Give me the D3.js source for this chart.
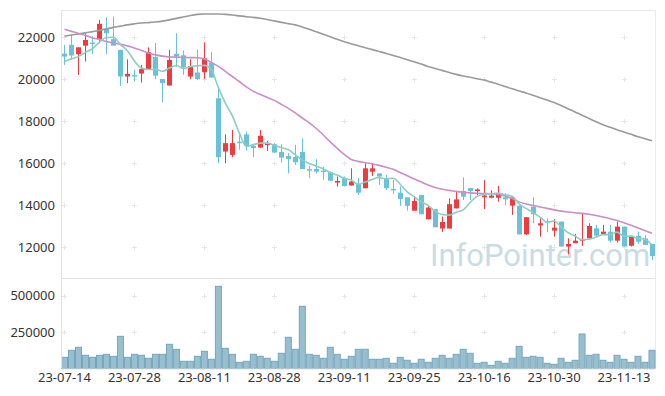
<!DOCTYPE html>
<html>
<head>
<meta charset="utf-8">
<script src="https://cdnjs.cloudflare.com/ajax/libs/d3/7.8.5/d3.min.js"></script>
<style>
  html, body { margin: 0; padding: 0; background: #fff; }
  #chart svg { display: block; }
  .axis text { font-family: "Noto Sans", sans-serif; font-size: 13px; fill: #333; }
  .axis path, .axis line { stroke: #e3e3e3; }
</style>
</head>
<body>
<div id="chart"></div>
<script>
const dates = [
  "23-07-14","23-07-17","23-07-18","23-07-19","23-07-20","23-07-21","23-07-24","23-07-25","23-07-26","23-07-27",
  "23-07-28","23-07-31","23-08-01","23-08-02","23-08-03","23-08-04","23-08-07","23-08-08","23-08-09","23-08-10",
  "23-08-11","23-08-14","23-08-16","23-08-17","23-08-18","23-08-21","23-08-22","23-08-23","23-08-24","23-08-25",
  "23-08-28","23-08-29","23-08-30","23-08-31","23-09-01","23-09-04","23-09-05","23-09-06","23-09-07","23-09-08",
  "23-09-11","23-09-12","23-09-13","23-09-14","23-09-15","23-09-18","23-09-19","23-09-20","23-09-21","23-09-22",
  "23-09-25","23-09-26","23-09-27","23-10-04","23-10-05","23-10-06","23-10-10","23-10-11","23-10-12","23-10-13",
  "23-10-16","23-10-17","23-10-18","23-10-19","23-10-20","23-10-23","23-10-24","23-10-25","23-10-26","23-10-27",
  "23-10-30","23-10-31","23-11-01","23-11-02","23-11-03","23-11-06","23-11-07","23-11-08","23-11-09","23-11-10",
  "23-11-13","23-11-14","23-11-15","23-11-16","23-11-17"
];
const openPrices = [
  21220,21640,21190,21600,21750,21910,22400,21910,21400,20130,
  20200,20270,20480,21060,20010,19700,21210,21140,20130,20320,
  20330,20790,19090,16550,16390,17020,17370,16820,16740,16870,
  16900,16530,16340,16290,16530,15710,15720,15640,15550,15070,
  15290,14930,15010,14800,15590,15510,15280,14770,14590,14370,
  13730,14480,13320,13800,12880,12880,13840,14670,14810,14690,
  14370,14350,14350,14370,13970,13970,12600,13920,13030,13220,
  12780,13210,12020,12180,12300,12410,12890,12620,12730,12300,
  12970,12060,12530,12410,12140
];
const highPrices = [
  21640,22110,21520,22190,22050,22830,22950,22990,21400,20950,
  20450,20680,21520,21720,20010,21400,22190,21370,20950,21400,
  21760,21290,19650,17370,17580,17450,17500,16910,17580,17060,
  16950,16900,16470,16870,17180,15860,16180,15830,15590,15360,
  15360,15750,15280,15990,15990,15510,15430,15200,14880,14370,
  14370,14480,13960,13800,13450,14310,14620,15320,14810,14800,
  15200,14690,14910,14560,14370,13970,13420,14370,13370,13370,
  13320,13210,12410,12620,13610,13130,13050,13050,13050,13210,
  12970,12530,12730,12570,12140
];
const lowPrices = [
  20680,20920,20200,20840,21200,21710,21200,21600,19680,19810,
  19900,19840,20480,20000,18900,19700,20600,20210,20000,19970,
  20000,20080,15990,15990,16280,16630,16600,16280,16740,16580,
  16500,16020,15510,15910,15720,15280,15510,15200,15150,14880,
  14880,14930,14480,14800,15390,14960,14720,14530,13960,13730,
  13730,13560,13320,12940,12720,12880,13840,14240,14240,14480,
  13800,14320,14160,14000,13530,12600,12570,13130,12490,12700,
  12490,12020,11650,12180,12050,12410,12490,12570,12210,12210,
  12020,12020,12140,12100,11380
];
const closePrices = [
  21080,21130,21520,21870,21700,22640,22190,21600,20130,20250,
  20170,20480,21290,20170,19810,20920,21080,20570,20630,20000,
  21000,20080,16280,16950,16950,16980,16820,16720,17300,16930,
  16500,16260,16200,16040,15720,15670,15590,15590,15160,15150,
  14910,15120,14590,15750,15750,15360,14800,14740,14290,13960,
  14190,13560,13880,12940,13190,14040,14270,14400,14670,14740,
  14450,14450,14560,14270,14370,12600,13420,13560,13130,13190,
  12920,12020,12140,12300,12370,13000,12540,12730,12300,12970,
  12020,12530,12250,12100,11570
];
const volumes = [
  76900,125000,145600,90600,76900,90600,97500,83800,221000,76900,
  97500,90600,70000,97500,97500,166200,131900,49500,49500,83800,
  118100,63200,564500,138700,97500,42600,49500,97500,83800,70000,
  49500,104400,214300,131900,427200,97500,90600,70000,145600,97500,
  63200,83800,131900,131900,63200,63200,70000,35700,76900,56300,
  35700,63200,42600,70000,90600,70000,97500,131900,104400,35700,
  42600,22000,49500,35700,70000,152500,76900,83800,76900,35700,
  28800,70000,42600,56300,237000,90600,97500,56300,42600,90600,
  63200,42600,83800,42600,125000
];
const ma5 = [
  20840,20970,21080,21280,21460,21770,21990,22000,21650,21360,
  20870,20530,20460,20470,20380,20530,20650,20510,20600,20640,
  20660,20460,19600,18860,18250,17440,16790,16880,16950,16950,
  16850,16740,16640,16390,16140,15980,15850,15720,15550,15430,
  15280,15190,14990,15100,15220,15310,15250,15280,14990,14630,
  14400,14150,13980,13700,13550,13520,13660,13770,14120,14420,
  14510,14540,14570,14490,14420,14050,13840,13640,13420,13180,
  13240,12960,12680,12520,12350,12370,12470,12590,12590,12710,
  12510,12510,12410,12370,12090
];
const ma20 = [
  22380,22280,22180,22090,21970,21900,21800,21730,21660,21590,
  21490,21370,21250,21160,21100,21060,21050,21040,21030,21020,
  20970,20800,20610,20370,20130,19890,19630,19420,19270,19130,
  18990,18800,18610,18390,18150,17920,17650,17340,17010,16700,
  16410,16170,16080,16020,15960,15890,15800,15700,15550,15400,
  15240,15100,14960,14840,14750,14700,14650,14610,14580,14560,
  14550,14540,14500,14430,14310,14150,14050,13980,13910,13840,
  13770,13710,13670,13630,13600,13560,13500,13430,13350,13260,
  13150,13030,12910,12780,12650
];
const ma60 = [
  22050,22110,22160,22210,22270,22330,22400,22470,22530,22590,
  22640,22680,22700,22730,22770,22830,22900,22970,23040,23090,
  23110,23110,23110,23090,23060,23020,22980,22950,22910,22850,
  22780,22710,22650,22590,22490,22380,22260,22140,22020,21900,
  21790,21690,21600,21500,21410,21320,21230,21130,21030,20930,
  20830,20720,20610,20510,20420,20320,20230,20150,20090,20020,
  19960,19860,19760,19650,19540,19440,19340,19230,19120,19010,
  18890,18750,18590,18440,18280,18130,17970,17830,17710,17590,
  17480,17370,17260,17160,17060
];
const priceTicks = [12000, 14000, 16000, 18000, 20000, 22000];
const volumeTicks = [250000, 500000];
const dateTicks = dates.filter((d, i) => i % 10 === 0);

const width = 665, height = 396;
const margin = {left: 61, right: 9.5, top: 10};
const priceBottom = 278, volumeBottom = 368.5;

const upColor = "#ef3a3e";
const downColor = "#69c2da";

const svg = d3.select("#chart").append("svg")
  .attr("width", width)
  .attr("height", height);

const x = d3.scaleBand()
  .domain(dates)
  .range([margin.left, width - margin.right])
  .padding(0);
const cx = d => x(d) + x.bandwidth() / 2;

const y = d3.scaleLinear()
  .domain([10520, 23300])
  .range([priceBottom, margin.top]);

const yVol = d3.scaleLinear()
  .domain([0, 621600])
  .range([volumeBottom, priceBottom]);

const candles = dates.map((d, i) => ({
  date: d, open: openPrices[i], high: highPrices[i], low: lowPrices[i], close: closePrices[i],
  volume: volumes[i]
}));

// frame
svg.append("line")
  .attr("x1", margin.left).attr("x2", width - margin.right)
  .attr("y1", margin.top + 0.5).attr("y2", margin.top + 0.5)
  .attr("stroke", "#e8e8e8");
svg.append("line")
  .attr("x1", width - margin.right).attr("x2", width - margin.right)
  .attr("y1", margin.top).attr("y2", volumeBottom)
  .attr("stroke", "#ececec");

// grid crosses
const gridG = svg.append("g").attr("stroke", "#e6e6e6").attr("stroke-width", 1);
function cross(px, py) {
  gridG.append("line").attr("x1", px - 2.5).attr("x2", px + 2.5).attr("y1", py).attr("y2", py);
  gridG.append("line").attr("x1", px).attr("x2", px).attr("y1", py - 2.5).attr("y2", py + 2.5);
}
dateTicks.forEach(d => {
  priceTicks.forEach(t => cross(Math.round(cx(d)) + 0.5, Math.round(y(t)) + 0.5));
  volumeTicks.forEach(t => cross(Math.round(cx(d)) + 0.5, Math.round(yVol(t)) + 0.5));
});

// watermark
svg.append("text")
  .attr("x", 430)
  .attr("y", 266)
  .attr("font-family", "Roboto, sans-serif")
  .attr("font-size", 31)
  .attr("fill", "#c9dce6")
  .text("InfoPointer.com");

// candles
const candleG = svg.append("g");
const bodyW = 5;
candleG.selectAll("line.wick")
  .data(candles)
  .join("line")
  .attr("class", "wick")
  .attr("x1", d => Math.round(cx(d.date)) + 0.5)
  .attr("x2", d => Math.round(cx(d.date)) + 0.5)
  .attr("y1", d => y(d.high))
  .attr("y2", d => y(d.low))
  .attr("stroke", d => d.close >= d.open ? upColor : downColor)
  .attr("stroke-width", 1);

candleG.selectAll("rect.body")
  .data(candles)
  .join("rect")
  .attr("class", "body")
  .attr("x", d => Math.round(cx(d.date)) + 0.5 - bodyW / 2)
  .attr("width", bodyW)
  .attr("y", d => y(Math.max(d.open, d.close)))
  .attr("height", d => Math.max(1.5, Math.abs(y(d.open) - y(d.close))))
  .attr("fill", d => d.close >= d.open ? upColor : downColor);

// moving averages
const maLine = d3.line()
  .x((v, i) => cx(dates[i]))
  .y(v => y(v))
  .curve(d3.curveMonotoneX);

[[ma60, "#9a9a9a"], [ma20, "#cc8dc9"], [ma5, "#8ccfc2"]].forEach(([vals, col]) => {
  svg.append("path")
    .datum(vals)
    .attr("fill", "none")
    .attr("stroke", col)
    .attr("stroke-width", 1.6)
    .attr("d", maLine);
});

// volume
svg.append("g")
  .selectAll("rect")
  .data(candles)
  .join("rect")
  .attr("x", d => x(d.date) + 0.5)
  .attr("width", x.step() - 1)
  .attr("y", d => yVol(d.volume))
  .attr("height", d => yVol(0) - yVol(d.volume))
  .attr("fill", "#98bfcf")
  .attr("stroke", "#76a6bb")
  .attr("stroke-width", 1);

// axes
const yAxis = svg.append("g")
  .attr("class", "axis")
  .attr("transform", `translate(${margin.left},0)`)
  .call(d3.axisLeft(y).tickValues(priceTicks).tickFormat(d3.format("d")).tickSize(0).tickPadding(6));
yAxis.select(".domain").remove();

const vAxis = svg.append("g")
  .attr("class", "axis")
  .attr("transform", `translate(${margin.left},0)`)
  .call(d3.axisLeft(yVol).tickValues(volumeTicks).tickFormat(d3.format("d")).tickSize(0).tickPadding(6));
vAxis.select(".domain").remove();

svg.append("line")
  .attr("x1", margin.left + 0.5).attr("x2", margin.left + 0.5)
  .attr("y1", margin.top).attr("y2", volumeBottom)
  .attr("stroke", "#e3e3e3");
svg.append("line")
  .attr("x1", margin.left).attr("x2", width - margin.right)
  .attr("y1", priceBottom + 0.5).attr("y2", priceBottom + 0.5)
  .attr("stroke", "#e3e3e3");

const xAxis = svg.append("g")
  .attr("class", "axis")
  .attr("transform", `translate(0,${volumeBottom})`)
  .call(d3.axisBottom(x).tickValues(dateTicks).tickSize(0).tickPadding(4));
xAxis.select(".domain").attr("stroke", "#e3e3e3");
</script>
</body>
</html>
